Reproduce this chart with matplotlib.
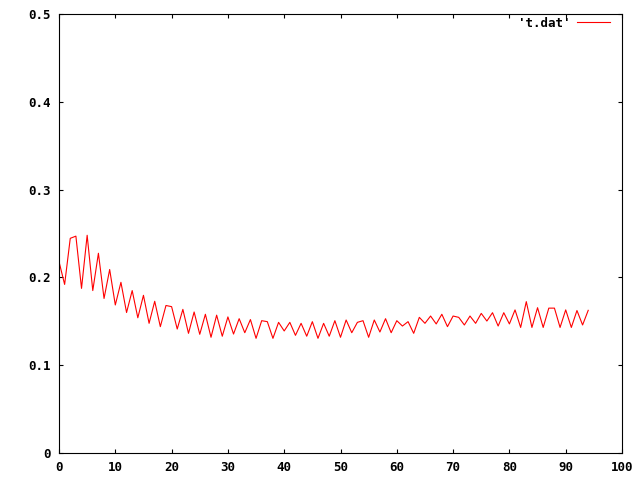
import matplotlib
matplotlib.use("Agg")
import matplotlib.pyplot as plt

# values (x = 0..94)
y_vals = [0.218, 0.192, 0.2445, 0.247, 0.1875, 0.248, 0.185, 0.2275, 0.176, 0.209,
          0.1686, 0.1944, 0.160, 0.185, 0.154, 0.1796, 0.1477, 0.1728, 0.1439, 0.168,
          0.1667, 0.1412, 0.1636, 0.1363, 0.1606, 0.1352, 0.158, 0.1318, 0.157, 0.133,
          0.155, 0.1355, 0.153, 0.137, 0.152, 0.1306, 0.1507, 0.1496, 0.1306, 0.1488,
          0.139, 0.1488, 0.134, 0.1477, 0.133, 0.1496, 0.1306, 0.1477, 0.133, 0.1507,
          0.1318, 0.1515, 0.137, 0.1488, 0.1507, 0.1318, 0.1515, 0.1378, 0.153, 0.137,
          0.1507, 0.1446, 0.1496, 0.1363, 0.1545, 0.1477, 0.156, 0.147, 0.158, 0.1439,
          0.156, 0.1545, 0.1458, 0.156, 0.1477, 0.159, 0.1503, 0.1598, 0.1446, 0.1598,
          0.147, 0.163, 0.143, 0.1724, 0.143, 0.1655, 0.143, 0.165, 0.165, 0.143,
          0.163, 0.143, 0.1623, 0.1458, 0.1625]
x_vals = list(range(len(y_vals)))

x_ticks = list(range(0, 101, 10))
y_ticks = [0, 0.1, 0.2, 0.3, 0.4, 0.5]
y_labels = ["0", "0.1", "0.2", "0.3", "0.4", "0.5"]

plt.rcParams['font.family'] = 'DejaVu Sans Mono'
plt.rcParams['font.weight'] = 'bold'

fig = plt.figure(figsize=(6.4, 4.8), dpi=100)
ax = fig.add_axes([59 / 640, 27 / 480, 563 / 640, 439 / 480])

ax.plot(x_vals, y_vals, color='red', linewidth=0.8, label="'t.dat'")

ax.set_xlim(0, 100)
ax.set_ylim(0, 0.5)
ax.set_xticks(x_ticks)
ax.set_yticks(y_ticks)
ax.set_yticklabels(y_labels)
ax.tick_params(direction='in', length=3, width=0.8, top=True, right=True,
               labelsize=9, pad=6)
for s in ax.spines.values():
    s.set_linewidth(0.8)

ax.legend(loc='center right', bbox_to_anchor=(0.978, 0.979), frameon=False,
          markerfirst=False, handlelength=2.6, handletextpad=0.5,
          fontsize=9, borderpad=0, borderaxespad=0)

fig.savefig('out.png', dpi=100)
